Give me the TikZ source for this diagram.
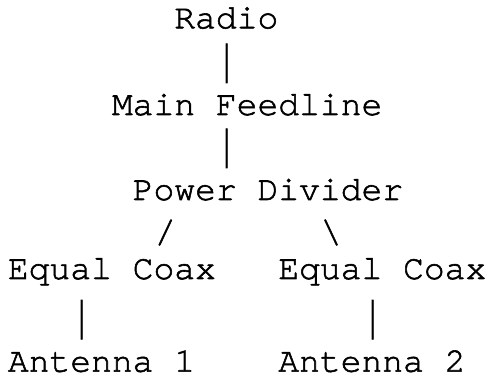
\documentclass[tikz,border=0pt]{standalone}
\usepackage{fontspec}
\newfontfamily\courfont{TeX Gyre Cursor}[RawFeature={embolden=1.6}]

\begin{document}
\begin{tikzpicture}[x=1pt, y=-1pt,
		word/.style = {anchor=base west, inner sep=0pt, font=\courfont\fontsize{34.67}{40}\selectfont},
		bar/.style = {inner sep=0pt, font=\courfont\fontsize{34.67}{40}\selectfont}]
			\useasboundingbox (0,0) rectangle (493,379);
			\node[word] (radio) at (174.1,28.3) {Radio};
			\node[bar] (b1) at (226.7,63.3) {\scalebox{1}[1.55]{|}};
			\node[word] (feed) at (111.7,115) {Main Feedline};
			\node[bar] (b2) at (226.7,148.3) {\scalebox{1}[1.55]{|}};
			\node[word] (div) at (132.5,200) {Power Divider};
			\node[bar] (sl) at (165.3,232.5) {/};
			\node[bar] (bs) at (331,232.5) {\textbackslash};
			\node[word] (coax1) at (7.7,279) {Equal Coax};
			\node[word] (coax2) at (278.1,279) {Equal Coax};
			\node[bar] (b3) at (81.7,319.7) {\scalebox{1}[1.55]{|}};
			\node[bar] (b4) at (372.7,319.7) {\scalebox{1}[1.55]{|}};
			\node[word] (ant1) at (7.7,371.7) {Antenna 1};
			\node[word] (ant2) at (278.1,371.7) {Antenna 2};
		\end{tikzpicture}
\end{document}
